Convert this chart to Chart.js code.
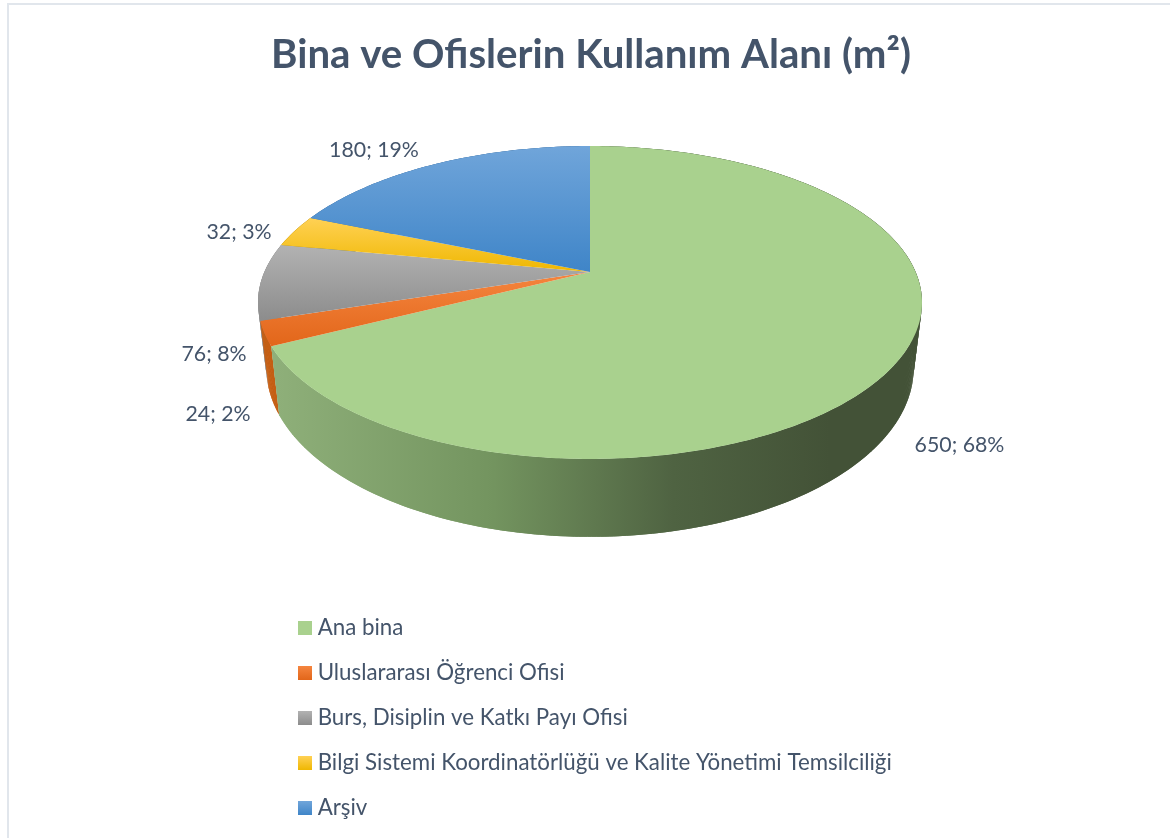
<!DOCTYPE html>
<html>
<head>
<meta charset="utf-8">
<title>Bina ve Ofislerin Kullanım Alanı</title>
<script src="https://cdn.jsdelivr.net/npm/chart.js@4"></script>
<style>
   html, body { margin: 0; background: #fff; overflow: hidden; }
   .frame { position: absolute; left: 7px; top: 3px; right: 0; bottom: 0; border-left: 2px solid #e1e6ec; border-top: 2px solid #e1e6ec; }
   canvas { position: absolute; left: 0; top: 0; }
</style>
</head>
<body>
<div class="frame"></div>
<canvas id="myChart" width="1170" height="838"></canvas>
<script>
// Data
const categories = [
   "Ana bina",
   "Uluslararası Öğrenci Ofisi",
   "Burs, Disiplin ve Katkı Payı Ofisi",
   "Bilgi Sistemi Koordinatörlüğü ve Kalite Yönetimi Temsilciliği",
   "Arşiv"
];
const areas = [650, 24, 76, 32, 180];

// Colours: slice top gradient (light, dark), solid base, wall shade
const topLight = ["#a9d18e", "#f5853f", "#b2b2b2", "#ffd154", "#70a5da"];
const topDark = ["#a9d18e", "#e2661a", "#8c8c8c", "#efb700", "#3f85c8"];
const baseColors = ["#a9d18e", "#ed7d31", "#a5a5a5", "#ffc000", "#5b9bd5"];
const wallColors = ["#8fb07a", "#c55f14", "#8a8a8a", "#b88a00", "#3f72a5"];
const textColor = "#44546a";

// Label centres, same order as the data
const labelX = [959.5, 218, 214, 239, 374];
const labelY = [445, 414, 354, 232, 150];

// Perspective of the top face: circle (u, v) to the picture
const cx = 590, vertexY = 272, spreadX = 325.6, spreadY = 150.5, tilt = 0.195;

function topPoint(angle) {
   const u = Math.cos(angle), v = Math.sin(angle), w = 1 - tilt * v;
   return [cx + spreadX * u / w, vertexY + spreadY * v / w];
}

// Bottom rim is the top rim moved down and pulled in a little
function lowerPoint(angle) {
   const p = topPoint(angle);
   return [cx + (p[0] - cx) * 0.975, 417 + (p[1] - 348) * 1.08];
}

function arcPoints(start, end, fn) {
   const steps = Math.max(4, Math.ceil((end - start) * 90));
   const pts = [];
   for (let i = 0; i <= steps; i++) pts.push(fn(start + (end - start) * i / steps));
   return pts;
}

function wallFill(ctx, i) {
   if (i != 0) return wallColors[i];
   const g = ctx.createLinearGradient(270, 0, 830, 0);
   g.addColorStop(0, "#8fb07a");
   g.addColorStop(0.4, "#73945f");
   g.addColorStop(0.72, "#4f6342");
   g.addColorStop(1, "#435237");
   return g;
}

// Draws the arcs Chart.js laid out as a tilted cylinder, instead of flat
const pie3d = {
   id: "pie3d",
   beforeDatasetsDraw(chart) {
      const ctx = chart.ctx;
      const arcs = chart.getDatasetMeta(0).data;
      // Walls first, back slices before front ones, the top faces cover the rest.
      // Each wall is swept in small overlapping pieces so the sides stay filled where it folds
      for (let i = arcs.length - 1; i >= 0; i--) {
         const top = arcPoints(arcs[i].startAngle, arcs[i].endAngle, topPoint);
         const low = arcPoints(arcs[i].startAngle, arcs[i].endAngle, lowerPoint);
         ctx.fillStyle = wallFill(ctx, i);
         for (let k = 0; k < top.length - 1; k++) {
            const n = Math.min(k + 2, top.length - 1);
            ctx.beginPath();
            ctx.moveTo(top[k][0], top[k][1]);
            ctx.lineTo(top[n][0], top[n][1]);
            ctx.lineTo(low[n][0], low[n][1]);
            ctx.lineTo(low[k][0], low[k][1]);
            ctx.closePath();
            ctx.fill();
         }
      }
      arcs.forEach((arc, i) => {
         const rim = arcPoints(arc.startAngle, arc.endAngle, topPoint);
         const ys = rim.map((p) => p[1]).concat(vertexY);
         const g = ctx.createLinearGradient(0, Math.min(...ys), 0, Math.max(...ys));
         g.addColorStop(0, topLight[i]);
         g.addColorStop(1, topDark[i]);
         ctx.beginPath();
         ctx.moveTo(cx, vertexY);
         rim.forEach((p) => ctx.lineTo(p[0], p[1]));
         ctx.closePath();
         ctx.fillStyle = g;
         ctx.fill();
      });
      return false;
   },
   afterDraw(chart) {
      const ctx = chart.ctx;
      const total = areas.reduce((a, b) => a + b);
      ctx.save();
      ctx.font = "21.3px Lato";
      ctx.fillStyle = textColor;
      ctx.textAlign = "center";
      ctx.textBaseline = "middle";
      areas.forEach((value, i) => {
         ctx.fillText(value + "; " + Math.round(value / total * 100) + "%", labelX[i], labelY[i]);
      });
      ctx.restore();
   },
   afterLayout(chart) {
      // Legend sits in its own column under the pie
      const legend = chart.legend;
      const pad = legend.options.labels.padding;
      legend.left = 303.5 - pad;
      legend.top = 617 - pad;
      legend.bottom = legend.top + 300;
   }
};

// Legend swatches carry the same gradient as the slices
function swatch(i) {
   const c = document.createElement("canvas");
   c.width = 14;
   c.height = 14;
   const x = c.getContext("2d");
   const g = x.createLinearGradient(0, 0, 0, 14);
   g.addColorStop(0, topLight[i]);
   g.addColorStop(1, topDark[i]);
   x.fillStyle = g;
   x.fillRect(0, 0, 14, 14);
   return c;
}

new Chart(document.getElementById("myChart"), {
   type: "pie",
   data: {
      labels: categories,
      datasets: [{ data: areas, backgroundColor: baseColors, borderWidth: 0 }]
   },
   options: {
      responsive: false,
      animation: false,
      events: [],
      layout: { padding: { left: 12 } },
      plugins: {
         tooltip: { enabled: false },
         title: {
            display: true,
            fullSize: false,
            text: "Bina ve Ofislerin Kullanım Alanı (m²)",
            color: textColor,
            font: { family: "Lato", size: 40.2, weight: "bold" },
            padding: { top: 31, bottom: 10 }
         },
         legend: {
            position: "chartArea",
            align: "start",
            labels: {
               usePointStyle: true,
               pointStyleWidth: 3,
               padding: 22.7,
               color: textColor,
               font: { family: "Lato", size: 22.3 },
               generateLabels: () => categories.map((text, i) => ({
                  text: text,
                  index: i,
                  hidden: false,
                  fontColor: textColor,
                  pointStyle: swatch(i)
               }))
            }
         }
      }
   },
   plugins: [pie3d]
});
</script>
</body>
</html>
